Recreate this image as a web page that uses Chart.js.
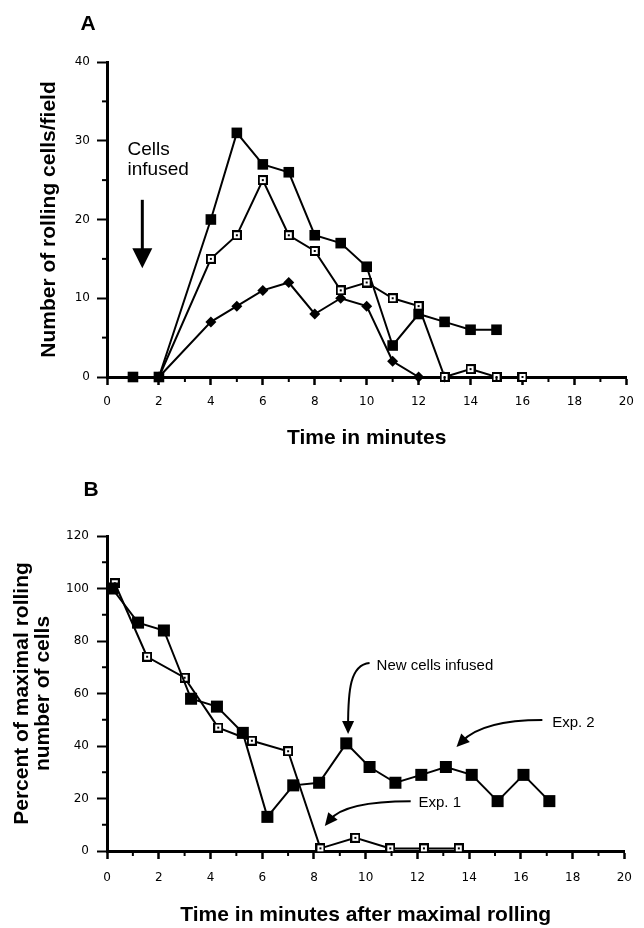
<!DOCTYPE html>
<html>
<head>
<meta charset="utf-8">
<script src="https://cdn.jsdelivr.net/npm/chart.js@4.4.0/dist/chart.umd.min.js"></script>
<style>
body{margin:0;background:#fff;}
#wrap{position:relative;width:644px;height:928px;}
canvas{position:absolute;left:0;}
</style>
</head>
<body>
<div id="wrap">
<canvas id="chartA" width="644" height="464" style="top:0"></canvas>
<canvas id="chartB" width="644" height="464" style="top:464px"></canvas>
</div>
<script>
// panel A - number of rolling cells per field
const timeA1 = [1,2,4,5,6,7,8,9,10,11,12,13,14,15];
const cellsA1 = [0,0,20,31,27,26,18,17,14,4,8,7,6,6];
const timeA2 = [2,4,5,6,7,8,9,10,11,12,13,14,15,16];
const cellsA2 = [0,15,18,25,18,16,11,12,10,9,0,1,0,0];
const timeA3 = [2,4,5,6,7,8,9,10,11,12,13];
const cellsA3 = [0,7,9,11,12,8,10,9,2,0,0];

// panel B - percent of maximal rolling
const timeExp2 = [0.2,1.2,2.2,3.25,4.25,5.25,6.2,7.2,8.2,9.25,10.15,11.15,12.15,13.1,14.1,15.1,16.1,17.1];
const pctExp2 = [100,87,84,58,55,45,13,25,26,41,32,26,29,32,29,19,29,19];
const timeExp1 = [0.3,1.55,3.0,4.3,5.6,7.0,8.25,9.6,10.95,12.25,13.6];
const pctExp1 = [102,74,66,47,42,38,1,5,1,1,1];

// tick labels
const ticksX = [0,2,4,6,8,10,12,14,16,18,20];
const ticksYA = [0,10,20,30,40];
const ticksYB = [0,20,40,60,80,100,120];

const FONT = '"Liberation Sans", Arial, sans-serif';
Chart.defaults.color = '#000';
Chart.defaults.font.family = FONT;

const pts = (xs, ys) => xs.map((x, i) => ({x: x, y: ys[i]}));

function openSquare(s){
    const c = document.createElement('canvas');
    c.width = c.height = s;
    const g = c.getContext('2d');
    g.fillStyle = '#fff';
    g.fillRect(0, 0, s, s);
    g.strokeStyle = '#000';
    g.lineWidth = 2;
    g.strokeRect(1, 1, s - 2, s - 2);
    g.fillStyle = '#000';
    g.fillRect(s/2 - 1, s/2 - 1, 2, 2);
    return c;
}

// arrows, notes, panel letter and short minor ticks
const notes = {
    id: 'notes',
    afterDraw(chart, args, opts){
        const ctx = chart.ctx;
        const sx = chart.scales.x, sy = chart.scales.y;
        const px = p => [sx.getPixelForValue(p[0]), sy.getPixelForValue(p[1])];
        ctx.save();
        ctx.fillStyle = '#000';
        ctx.strokeStyle = '#000';

        // minor ticks
        ctx.lineWidth = 2;
        sx.ticks.forEach(t => {
            if (ticksX.includes(t.value)) return;
            const x = sx.getPixelForValue(t.value);
            ctx.beginPath();
            ctx.moveTo(x, sx.top);
            ctx.lineTo(x, sx.top + 5);
            ctx.stroke();
        });
        sy.ticks.forEach(t => {
            if (opts.majorY.includes(t.value)) return;
            const y = sy.getPixelForValue(t.value);
            ctx.beginPath();
            ctx.moveTo(sy.right - 5, y);
            ctx.lineTo(sy.right, y);
            ctx.stroke();
        });

        opts.texts.forEach(t => {
            ctx.font = t.font;
            ctx.textAlign = 'left';
            ctx.textBaseline = 'alphabetic';
            const p = px(t.at);
            ctx.fillText(t.text, p[0], p[1]);
        });

        opts.arrows.forEach(a => {
            const p = a.path.map(px);
            const tip = p[p.length - 1], prev = p[p.length - 2];
            const ang = Math.atan2(tip[1] - prev[1], tip[0] - prev[0]);
            ctx.lineWidth = a.width;
            ctx.beginPath();
            ctx.moveTo(p[0][0], p[0][1]);
            if (p.length == 4)
                ctx.bezierCurveTo(p[1][0], p[1][1], p[2][0], p[2][1], tip[0] - Math.cos(ang)*a.head*0.6, tip[1] - Math.sin(ang)*a.head*0.6);
            else
                ctx.lineTo(tip[0] - Math.cos(ang)*a.head*0.6, tip[1] - Math.sin(ang)*a.head*0.6);
            ctx.stroke();
            ctx.save();
            ctx.translate(tip[0], tip[1]);
            ctx.rotate(ang);
            ctx.beginPath();
            ctx.moveTo(0, 0);
            ctx.lineTo(-a.head, -a.half);
            ctx.lineTo(-a.head, a.half);
            ctx.closePath();
            ctx.fill();
            ctx.restore();
        });

        const area = chart.chartArea;
        ctx.font = 'bold 21px ' + FONT;
        ctx.textAlign = 'center';
        ctx.textBaseline = 'middle';
        ctx.fillText(opts.letter, area.left + opts.letterAt[0], area.top + opts.letterAt[1]);
        ctx.restore();
    }
};

function axisX(title, height, tickPad, titlePad){
    return {
        type: 'linear', min: 0, max: 20,
        afterFit: s => { s.height = height; },
        ticks: {
            stepSize: 1, autoSkip: false, maxRotation: 0, padding: tickPad,
            font: {family: '"DejaVu Sans"', size: 12},
            callback: v => ticksX.includes(v) ? String(v) : ''
        },
        grid: {
            drawOnChartArea: false, tickLength: 8, tickWidth: 2.5,
            tickColor: c => ticksX.includes(c.tick.value) ? '#000' : 'rgba(0,0,0,0)'
        },
        border: {color: '#000', width: 3},
        title: {
            display: true, text: title,
            font: {family: FONT, size: 21, weight: 'bold', lineHeight: 1},
            padding: {top: 0, bottom: titlePad}
        }
    };
}

function axisY(title, max, step, major, tickPad, titlePad){
    return {
        min: 0, max: max,
        afterFit: s => { s.width = 107; },
        ticks: {
            stepSize: step, autoSkip: false, padding: tickPad,
            font: {family: '"DejaVu Sans"', size: 12},
            callback: v => major.includes(v) ? String(v) : ''
        },
        grid: {
            drawOnChartArea: false, tickLength: 10, tickWidth: 2,
            tickColor: c => major.includes(c.tick.value) ? '#000' : 'rgba(0,0,0,0)'
        },
        border: {color: '#000', width: 3},
        title: {
            display: true, text: title,
            font: {family: FONT, size: 21, weight: 'bold', lineHeight: 1},
            padding: {top: titlePad, bottom: 0}
        }
    };
}

const lineBase = {borderColor: '#000', borderWidth: 2, tension: 0, clip: false, pointBorderColor: '#000', pointBackgroundColor: '#000'};

new Chart(document.getElementById('chartA'), {
    type: 'line',
    data: {
        datasets: [
            Object.assign({label: 'filled', data: pts(timeA1, cellsA1), pointStyle: 'rect', pointRadius: 7.5, pointBorderWidth: 0}, lineBase),
            Object.assign({label: 'open', data: pts(timeA2, cellsA2), pointStyle: openSquare(10), pointRadius: 5}, lineBase),
            Object.assign({label: 'diamond', data: pts(timeA3, cellsA3), pointStyle: 'rectRot', pointRadius: 5.5, pointBorderWidth: 0}, lineBase)
        ]
    },
    options: {
        responsive: false, animation: false, devicePixelRatio: 1,
        layout: {padding: {top: 62, right: 7, left: 0, bottom: 0}},
        scales: {
            x: axisX('Time in minutes', 87, 10, 15.5),
            y: axisY('Number of rolling cells/field', 40, 5, ticksYA, 7, 39)
        },
        plugins: {
            legend: {display: false},
            tooltip: {enabled: false},
            notes: {
                majorY: ticksYA,
                letter: 'A', letterAt: [-19, -38],
                texts: [
                    {text: 'Cells', at: [0.79, 28.2], font: '19px ' + FONT},
                    {text: 'infused', at: [0.79, 25.6], font: '19px ' + FONT}
                ],
                arrows: [
                    {path: [[1.36, 22.5], [1.36, 13.8]], width: 3, head: 20, half: 10}
                ]
            }
        }
    },
    plugins: [notes]
});

new Chart(document.getElementById('chartB'), {
    type: 'line',
    data: {
        datasets: [
            Object.assign({label: 'Exp. 2', data: pts(timeExp2, pctExp2), pointStyle: 'rect', pointRadius: 8.5, pointBorderWidth: 0}, lineBase),
            Object.assign({label: 'Exp. 1', data: pts(timeExp1, pctExp1), pointStyle: openSquare(10), pointRadius: 5}, lineBase)
        ]
    },
    options: {
        responsive: false, animation: false, devicePixelRatio: 1,
        layout: {padding: {top: 72, right: 7, left: 0, bottom: 0}},
        scales: {
            x: axisX('Time in minutes after maximal rolling', 77, 12, 2.5),
            y: axisY(['Percent of maximal rolling', 'number of cells'], 120, 10, ticksYB, 8, 11.5)
        },
        plugins: {
            legend: {display: false},
            tooltip: {enabled: false},
            notes: {
                majorY: ticksYB,
                letter: 'B', letterAt: [-16, -46],
                texts: [
                    {text: 'New cells infused', at: [10.42, 69], font: '15px ' + FONT},
                    {text: 'Exp. 2', at: [17.21, 47.2], font: '15px ' + FONT},
                    {text: 'Exp. 1', at: [12.04, 16.8], font: '15px ' + FONT}
                ],
                arrows: [
                    {path: [[10.15, 71.6], [9.40, 70.9], [9.32, 61.3], [9.32, 44.6]], width: 2, head: 13, half: 6},
                    {path: [[16.83, 49.9], [15.21, 49.9], [14.26, 47.2], [13.51, 39.6]], width: 2, head: 13, half: 6},
                    {path: [[11.74, 19.0], [9.92, 19.0], [8.98, 16.4], [8.42, 9.5]], width: 2, head: 13, half: 6}
                ]
            }
        }
    },
    plugins: [notes]
});
</script>
</body>
</html>
